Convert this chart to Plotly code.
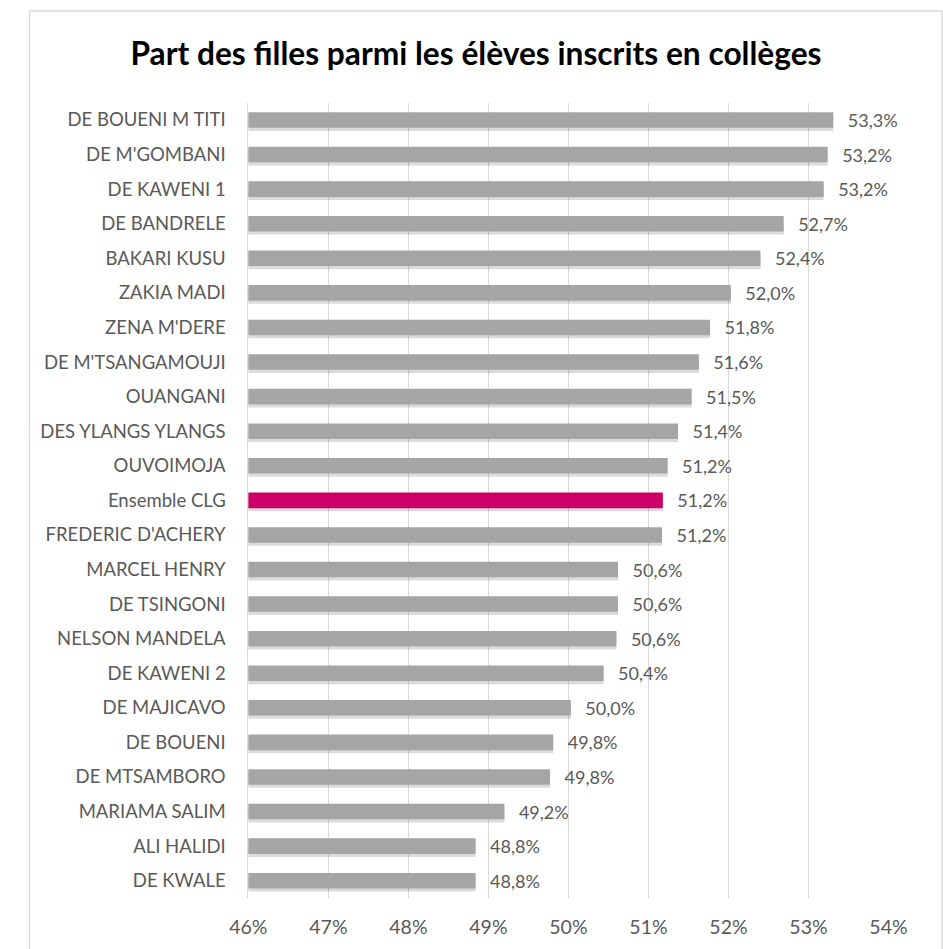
import plotly.graph_objects as go

categories = [
    "DE BOUENI M TITI", "DE M'GOMBANI", "DE KAWENI 1", "DE BANDRELE", "BAKARI KUSU",
    "ZAKIA MADI", "ZENA M'DERE", "DE M'TSANGAMOUJI", "OUANGANI", "DES YLANGS YLANGS",
    "OUVOIMOJA", "Ensemble CLG", "FREDERIC D'ACHERY", "MARCEL HENRY", "DE TSINGONI",
    "NELSON MANDELA", "DE KAWENI 2", "DE MAJICAVO", "DE BOUENI", "DE MTSAMBORO",
    "MARIAMA SALIM", "ALI HALIDI", "DE KWALE",
]
values = [
    53.31, 53.24, 53.19, 52.69, 52.40,
    52.03, 51.77, 51.63, 51.54, 51.37,
    51.24, 51.18, 51.17, 50.62, 50.62,
    50.60, 50.44, 50.03, 49.81, 49.77,
    49.20, 48.84, 48.84,
]
highlight = "Ensemble CLG"
tick_vals = [46, 47, 48, 49, 50, 51, 52, 53, 54]
tick_text = ["46%", "47%", "48%", "49%", "50%", "51%", "52%", "53%", "54%"]
title = "Part des filles parmi les élèves inscrits en collèges"

W, H = 943, 949
FONT = "Lato"
TXT = "#595959"
bar_w = 0.45

colors = ["#CC0066" if c == highlight else "#A5A5A5" for c in categories]

fig = go.Figure()
# soft shadow below bars
fig.add_trace(go.Bar(
    y=categories, x=values, orientation="h",
    marker=dict(color="rgba(0,0,0,0.14)", line=dict(width=0)),
    width=bar_w, offset=-bar_w / 2 + 0.09,
    hoverinfo="skip", showlegend=False,
))
fig.add_trace(go.Bar(
    y=categories, x=values, orientation="h",
    marker=dict(color=colors, line=dict(width=0)),
    width=bar_w, offset=-bar_w / 2,
    texttemplate="  \u2009%{x:.1f}%", textposition="outside",
    constraintext="none",
    textfont=dict(family=FONT, size=18, color=TXT),
    cliponaxis=False, showlegend=False,
))

x0, x1 = 239 / W, 906 / W
y_top, y_bot = 1 - 102.7 / H, 1 - 898 / H

fig.update_layout(
    width=W, height=H,
    margin=dict(l=0, r=0, t=0, b=0),
    paper_bgcolor="white", plot_bgcolor="white",
    barmode="overlay",
    separators=",.",
    font=dict(family=FONT, color=TXT),
    xaxis=dict(
        domain=[x0, x1], range=[46, 54],
        tickvals=tick_vals, ticktext=tick_text,
        showgrid=True, gridcolor="#D9D9D9", gridwidth=1,
        zeroline=False, showline=False,
        ticks="outside", ticklen=12, tickcolor="rgba(0,0,0,0)",
        tickfont=dict(family=FONT, size=19.5, color=TXT),
    ),
    yaxis=dict(
        domain=[y_bot, y_top],
        autorange="reversed",
        showline=True, linecolor="#D9D9D9", linewidth=1,
        showgrid=False,
        ticks="outside", ticklen=18, tickcolor="rgba(0,0,0,0)",
        tickfont=dict(family=FONT, size=18.5, color=TXT),
    ),
    title=dict(
        text="<b>" + title + "</b>",
        x=476 / W, xanchor="center", y=1 - 54 / H, yanchor="middle",
        font=dict(family=FONT, size=31.7, color="#000000"),
    ),
    shapes=[dict(
        type="rect", xref="paper", yref="paper",
        x0=11 / W, x1=1.02, y0=-0.02, y1=1 - 11 / H,
        line=dict(color="#D9D9D9", width=1.5), fillcolor="rgba(0,0,0,0)",
        layer="below",
    )],
)

fig.write_html(
    "out.html",
    config={"displayModeBar": False},
    post_script="document.body.style.margin='0';document.body.style.padding='0';",
)
